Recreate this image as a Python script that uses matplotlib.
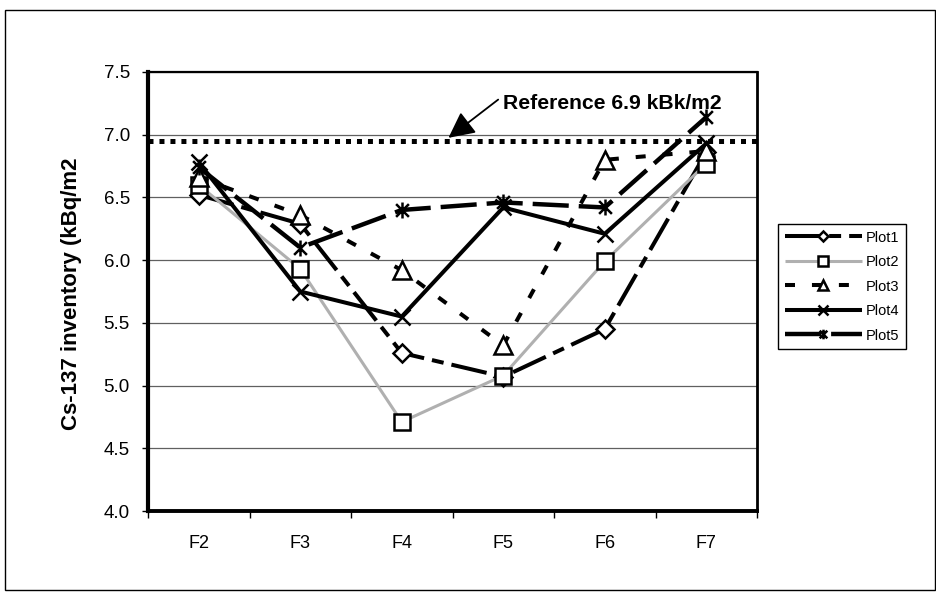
import matplotlib
matplotlib.use("Agg")
import matplotlib.pyplot as plt
from matplotlib.path import Path
from matplotlib.patches import Rectangle
import numpy as np

plt.rcParams['font.family'] = ['Liberation Sans', 'DejaVu Sans']
plt.rcParams['lines.scale_dashes'] = False

categories = ["F2", "F3", "F4", "F5", "F6", "F7"]
plot1 = [6.52, 6.29, 5.26, 5.07, 5.45, 6.86]
plot2 = [6.60, 5.93, 4.71, 5.08, 5.99, 6.77]
plot3 = [6.66, 6.36, 5.92, 5.32, 6.80, 6.87]
plot4 = [6.78, 5.75, 5.55, 6.42, 6.21, 6.93]
plot5 = [6.74, 6.10, 6.40, 6.46, 6.42, 7.14]
series_names = ["Plot1", "Plot2", "Plot3", "Plot4", "Plot5"]
reference_value = 6.95
reference_label = "Reference 6.9 kBk/m2"
y_ticks = [4.0, 4.5, 5.0, 5.5, 6.0, 6.5, 7.0, 7.5]
y_label = "Cs-137 inventory (kBq/m2"

W, H = 937, 596
fig = plt.figure(figsize=(W / 100, H / 100), dpi=100)
ax = fig.add_axes([148 / W, 1 - 511 / H, (757 - 148) / W, (511 - 72) / H])

# outer chart border
fig.patches.append(Rectangle((5 / W, 6 / H), (935 - 5) / W, (590 - 10) / H,
                             transform=fig.transFigure, fill=False,
                             edgecolor='black', linewidth=1.0, zorder=0))

x = np.arange(len(categories)) + 0.5

star = Path([(-1, -1), (1, 1), (-1, 1), (1, -1), (0, -1.25), (0, 1.25)],
            [Path.MOVETO, Path.LINETO] * 3)

common = dict(color='black', markerfacecolor='white', markeredgecolor='black',
              markeredgewidth=1.8, solid_capstyle='butt', dash_capstyle='butt')

l1, = ax.plot(x, plot1, marker='D', markersize=9, linewidth=2.9,
              label=series_names[0], **common)
l1.set_dashes((26, 5.8, 8.6, 5.8))
l2, = ax.plot(x, plot2, marker='s', markersize=11.5, linewidth=2.2,
              label=series_names[1], **{**common, 'color': '#b0b0b0'})
l3, = ax.plot(x, plot3, marker='^', markersize=12.5, linewidth=2.9,
              label=series_names[2], **common)
l3.set_dashes((7.2, 12.2))
l4, = ax.plot(x, plot4, marker='x', markersize=11.5, linewidth=2.9,
              label=series_names[3], **common)
l5, = ax.plot(x, plot5, marker=star, markersize=11.5, linewidth=3.2,
              label=series_names[4], **{**common, 'markerfacecolor': 'none'})
l5.set_dashes((26, 7.2))

ref = ax.axhline(reference_value, color='black', linewidth=3.6,
                 dash_capstyle='butt', zorder=1.5)
ref.set_dashes((3.6, 4.3))

ax.text(3.50, 7.245, reference_label, fontsize=15.2, fontweight='bold',
        ha='left', va='center')
ax.annotate('', xy=(2.96, 6.975), xytext=(3.45, 7.28),
            arrowprops=dict(arrowstyle='-|>,head_length=0.8,head_width=0.4',
                            color='black', lw=1.3, mutation_scale=20,
                            shrinkA=0, shrinkB=0))

ax.set_xlim(0, len(categories))
ax.set_ylim(4.0, 7.5)
ax.set_yticks(y_ticks)
ax.set_yticklabels([f"{v:.1f}" for v in y_ticks])
ax.set_xticks(np.arange(len(categories) + 1))
ax.set_xticklabels([])
ax.set_xticks(x, minor=True)
ax.set_xticklabels(categories, minor=True)
ax.tick_params(axis='x', which='major', direction='out', length=5, width=1)
ax.tick_params(axis='x', which='minor', length=0, pad=17, labelsize=13)
ax.tick_params(axis='y', direction='out', length=4, width=1, pad=9, labelsize=13.5)

ax.grid(axis='y', color='#606060', linewidth=0.9)
ax.set_axisbelow(True)

ax.spines['left'].set_linewidth(3.0)
ax.spines['bottom'].set_linewidth(2.8)
ax.spines['top'].set_linewidth(1.6)
ax.spines['right'].set_linewidth(2.0)

ax.set_ylabel(y_label, fontsize=16, fontweight='bold')
ax.yaxis.set_label_coords((82 - 148) / (757 - 148), 0.495)

leg = fig.legend(handles=[l1, l2, l3, l4, l5], loc='upper left',
                 bbox_to_anchor=(778 / W, 1 - 224 / H), borderaxespad=0,
                 fancybox=False, edgecolor='black', framealpha=1,
                 fontsize=10.5, handlelength=5.3, handletextpad=0.3,
                 labelspacing=0.72, borderpad=0.45, markerscale=0.6)
leg.get_frame().set_linewidth(1.0)

fig.savefig("out.png", dpi=100)
